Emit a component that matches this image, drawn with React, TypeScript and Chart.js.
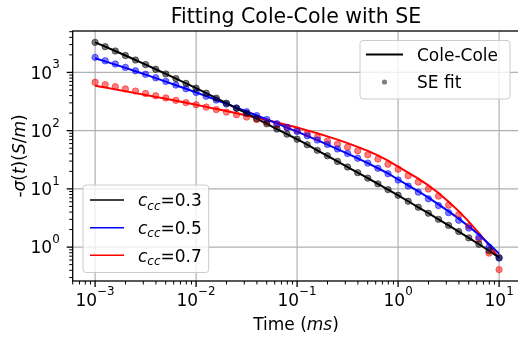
import { useEffect, useRef } from "react";
import { Chart, registerables } from "chart.js";

Chart.register(...registerables);

// Sample times (ms), ten per decade
const timeMs = [
  0.001, 0.001259, 0.001585, 0.001995, 0.002512, 0.003162, 0.003981, 0.005012, 0.00631, 0.007943,
  0.01, 0.01259, 0.01585, 0.01995, 0.02512, 0.03162, 0.03981, 0.05012, 0.0631, 0.07943,
  0.1, 0.1259, 0.1585, 0.1995, 0.2512, 0.3162, 0.3981, 0.5012, 0.631, 0.7943,
  1, 1.259, 1.585, 1.995, 2.512, 3.162, 3.981, 5.012, 6.31, 7.943,
  10,
];

// Cole-Cole curves, -sigma(t) in S/m
const coleCole03 = [
  3282, 2770, 2328, 1950, 1632, 1361, 1134, 942, 783, 648,
  536, 440, 361, 296, 242, 198, 161, 131, 106.5, 87.1,
  71.2, 57.3, 45.9, 37.0, 29.6, 23.7, 19.0, 15.3, 12.2, 9.72,
  7.77, 6.13, 4.83, 3.82, 3.0, 2.36, 1.85, 1.44, 1.12, 0.871,
  0.661,
];
const coleCole05 = [
  1752, 1544, 1361, 1195, 1049, 917, 798, 695, 603, 523,
  452, 391, 336, 289, 248, 213, 182, 156, 133, 113,
  96.1, 81.4, 68.7, 57.7, 48.3, 40.3, 33.5, 27.6, 22.6, 18.4,
  14.5, 11.5, 9.1, 7.07, 5.42, 4.11, 3.08, 2.26, 1.63, 1.13,
  0.774,
];
const coleCole07 = [
  589, 549, 511, 476, 441, 410, 380, 353, 326, 301,
  278, 256, 236, 217, 199, 182, 166, 152, 138, 125,
  113, 101, 90.2, 79.8, 70.1, 61.0, 52.7, 45.0, 37.5, 30.5,
  24.2, 19.1, 15.0, 11.5, 8.51, 6.03, 4.15, 2.74, 1.74, 1.08,
  0.648,
];

// Stretched-exponential fits at the same times
const seFit03 = [
  3282, 2770, 2328, 1950, 1632, 1361, 1134, 942, 783, 648,
  536, 440, 361, 296, 242, 198, 161, 131, 106.5, 87.1,
  71.2, 57.3, 45.9, 37.0, 29.6, 23.7, 19.0, 15.3, 12.2, 9.72,
  7.77, 6.13, 4.83, 3.82, 3.0, 2.36, 1.85, 1.44, 1.12, 0.871,
  0.661,
];
const seFit05 = [
  1815, 1581, 1393, 1218, 1065, 928, 808, 701, 606, 523,
  452, 389, 335, 287, 246, 211, 181, 155, 132, 113,
  96.5, 81.7, 69.0, 58.0, 48.5, 40.5, 33.6, 27.7, 22.6, 18.2,
  14.2, 11.2, 8.78, 6.76, 5.17, 3.91, 2.9, 2.12, 1.48, 1.0,
  0.648,
];
const seFit07 = [
  676, 618, 568, 521, 478, 435, 397, 364, 331, 303,
  278, 254, 230, 208, 188, 171, 155, 140, 126, 114,
  102, 88.5, 76.8, 66.6, 58.7, 51.9, 45.2, 38.6, 32.6, 26.5,
  21.8, 16.8, 13.1, 9.96, 7.5, 5.25, 3.61, 2.29, 1.37, 0.789,
  0.411,
];

const cccValues = ["0.3", "0.5", "0.7"];
const seriesColors = ["#000000", "#0000ff", "#ff0000"];
const dotColors = ["rgba(0,0,0,0.5)", "rgba(0,0,255,0.5)", "rgba(255,0,0,0.5)"];

const xTickExps = [-3, -2, -1, 0, 1];
const yTickExps = [0, 1, 2, 3];

const titleText = "Fitting Cole-Cole with SE";

const FONT = '"DejaVu Sans", sans-serif';
const BASE = 17;

type Run = { t: string; it?: boolean; s?: number; dy?: number };

function fontOf(size: number, italic?: boolean) {
  return `${italic ? "italic " : ""}${size}px ${FONT}`;
}

function runsWidth(ctx: CanvasRenderingContext2D, runs: Run[], size: number) {
  let w = 0;
  for (const r of runs) {
    ctx.font = fontOf(size * (r.s ?? 1), r.it);
    w += ctx.measureText(r.t).width;
  }
  return w;
}

function drawRuns(
  ctx: CanvasRenderingContext2D,
  runs: Run[],
  x: number,
  y: number,
  size: number,
  align: "left" | "center" | "right"
) {
  const w = runsWidth(ctx, runs, size);
  let cx = align === "left" ? x : align === "center" ? x - w / 2 : x - w;
  ctx.textAlign = "left";
  ctx.textBaseline = "alphabetic";
  for (const r of runs) {
    ctx.font = fontOf(size * (r.s ?? 1), r.it);
    ctx.fillText(r.t, cx, y + (r.dy ?? 0));
    cx += ctx.measureText(r.t).width;
  }
  return w;
}

function powRuns(e: number): Run[] {
  return [
    { t: "10" },
    { t: e < 0 ? "\u2212" + Math.abs(e) : String(e), s: 0.7, dy: -0.6 * BASE },
  ];
}

function seg(ctx: CanvasRenderingContext2D, x1: number, y1: number, x2: number, y2: number) {
  ctx.beginPath();
  ctx.moveTo(x1, y1);
  ctx.lineTo(x2, y2);
  ctx.stroke();
}

function legendFrame(ctx: CanvasRenderingContext2D, x: number, y: number, w: number, h: number) {
  ctx.beginPath();
  ctx.roundRect(x, y, w, h, 3);
  ctx.fillStyle = "rgba(255,255,255,0.8)";
  ctx.fill();
  ctx.strokeStyle = "#cccccc";
  ctx.lineWidth = 1;
  ctx.stroke();
}

const decorPlugin = {
  id: "decor",
  beforeDatasetsDraw(chart: any) {
    const { ctx, chartArea, scales } = chart;
    const { left, right, top, bottom } = chartArea;
    ctx.save();
    ctx.strokeStyle = "#b0b0b0";
    ctx.lineWidth = 1.2;
    for (const e of xTickExps) {
      const px = scales.x.getPixelForValue(10 ** e);
      seg(ctx, px, top, px, bottom);
    }
    for (const e of yTickExps) {
      const py = scales.y.getPixelForValue(10 ** e);
      seg(ctx, left, py, right, py);
    }
    ctx.restore();
  },
  afterDatasetsDraw(chart: any) {
    const { ctx, chartArea, scales } = chart;
    const { left, right, top, bottom } = chartArea;
    const xs = scales.x;
    const ys = scales.y;
    ctx.save();

    // spines
    ctx.strokeStyle = "#000";
    ctx.lineWidth = 1.3;
    ctx.strokeRect(left, top, right - left, bottom - top);

    // ticks (major at decades, minor in between)
    const tickSet = (scale: any, draw: (p: number, major: boolean) => void) => {
      const lo = Math.floor(Math.log10(scale.min));
      const hi = Math.ceil(Math.log10(scale.max));
      for (let d = lo; d <= hi; d++) {
        for (let m = 1; m <= 9; m++) {
          const v = m * 10 ** d;
          if (v < scale.min || v > scale.max) continue;
          draw(scale.getPixelForValue(v), m === 1);
        }
      }
    };
    ctx.strokeStyle = "#000";
    tickSet(xs, (px, major) => {
      ctx.lineWidth = major ? 1.3 : 1;
      seg(ctx, px, bottom, px, bottom + (major ? 6 : 3.5));
    });
    tickSet(ys, (py, major) => {
      ctx.lineWidth = major ? 1.3 : 1;
      seg(ctx, left, py, left - (major ? 6 : 3.5), py);
    });

    // tick labels
    ctx.fillStyle = "#000";
    for (const e of xTickExps) {
      drawRuns(ctx, powRuns(e), xs.getPixelForValue(10 ** e), bottom + 24.5, BASE, "center");
    }
    for (const e of yTickExps) {
      drawRuns(ctx, powRuns(e), left - 13, ys.getPixelForValue(10 ** e) + 6.2, BASE, "right");
    }

    // title
    const cx = (left + right) / 2;
    drawRuns(ctx, [{ t: titleText }], cx, 23, 20.5, "center");

    // axis labels
    drawRuns(ctx, [{ t: "Time (" }, { t: "ms", it: true }, { t: ")" }], cx, 329.5, BASE, "center");
    ctx.save();
    ctx.translate(25, (top + bottom) / 2);
    ctx.rotate(-Math.PI / 2);
    drawRuns(
      ctx,
      [
        { t: "-" },
        { t: "\u03c3", it: true },
        { t: "(" },
        { t: "t", it: true },
        { t: ")(" },
        { t: "S", it: true },
        { t: "/" },
        { t: "m", it: true },
        { t: ")" },
      ],
      0,
      0,
      BASE,
      "center"
    );
    ctx.restore();

    // legend: model vs fit
    legendFrame(ctx, 360, 40.5, 150, 58.5);
    ctx.strokeStyle = "#000";
    ctx.lineWidth = 2;
    seg(ctx, 366, 54.5, 403, 54.5);
    ctx.fillStyle = "#000";
    drawRuns(ctx, [{ t: "Cole-Cole" }], 417, 54.5 + 6.2, BASE, "left");
    ctx.beginPath();
    ctx.arc(384.5, 82, 2.6, 0, Math.PI * 2);
    ctx.fillStyle = "rgba(0,0,0,0.5)";
    ctx.fill();
    ctx.fillStyle = "#000";
    drawRuns(ctx, [{ t: "SE fit" }], 417, 82 + 6.2, BASE, "left");

    // legend: c_cc values
    const labels: Run[][] = cccValues.map((c) => [
      { t: "c", it: true },
      { t: "cc", it: true, s: 0.7, dy: 3.4 },
      { t: "=" + c },
    ]);
    const textW = Math.max(...labels.map((r) => runsWidth(ctx, r, BASE)));
    const lx = 83;
    const ly = 185;
    legendFrame(ctx, lx, ly, 138 + textW + 7 - lx, 87.5);
    const rows = [200, 227.7, 255.3];
    labels.forEach((r, i) => {
      ctx.strokeStyle = seriesColors[i];
      ctx.lineWidth = 1.4;
      seg(ctx, 90, rows[i], 124, rows[i]);
      ctx.fillStyle = "#000";
      drawRuns(ctx, r, 138, rows[i] + 6.2, BASE, "left");
    });

    ctx.restore();
  },
};

export default function App() {
  const canvasRef = useRef<HTMLCanvasElement | null>(null);

  useEffect(() => {
    const canvas = canvasRef.current;
    if (!canvas) return;

    const lines = [coleCole03, coleCole05, coleCole07];
    const fits = [seFit03, seFit05, seFit07];
    const datasets: any[] = [];
    lines.forEach((vals, i) => {
      datasets.push({
        label: "Cole-Cole c=" + cccValues[i],
        data: timeMs.map((t, k) => ({ x: t, y: vals[k] })),
        borderColor: seriesColors[i],
        borderWidth: 2,
        pointRadius: 0,
        tension: 0,
        fill: false,
        order: 2,
      });
    });
    fits.forEach((vals, i) => {
      datasets.push({
        label: "SE fit c=" + cccValues[i],
        data: timeMs.map((t, k) => ({ x: t, y: vals[k] })),
        showLine: false,
        pointRadius: 3.2,
        pointBackgroundColor: dotColors[i],
        pointBorderColor: dotColors[i],
        pointBorderWidth: 1,
        order: 1,
      });
    });

    const chart = new Chart(canvas, {
      type: "line",
      data: { datasets },
      options: {
        animation: false,
        responsive: false,
        devicePixelRatio: 1,
        events: [],
        layout: { padding: { left: 72.7, top: 31, right: 10.7, bottom: 57 } },
        plugins: { legend: { display: false }, tooltip: { enabled: false }, title: { display: false } },
        scales: {
          x: { type: "logarithmic", min: 0.000631, max: 15.85, display: false },
          y: { type: "logarithmic", min: 0.262, max: 5140, display: false },
        },
      },
      plugins: [decorPlugin],
    });

    return () => chart.destroy();
  }, []);

  return (
    <div style={{ position: "fixed", left: 0, top: 0, width: 530, height: 338, overflow: "hidden", background: "#fff" }}>
      <canvas ref={canvasRef} width={530} height={338} style={{ width: 530, height: 338 }} />
    </div>
  );
}
